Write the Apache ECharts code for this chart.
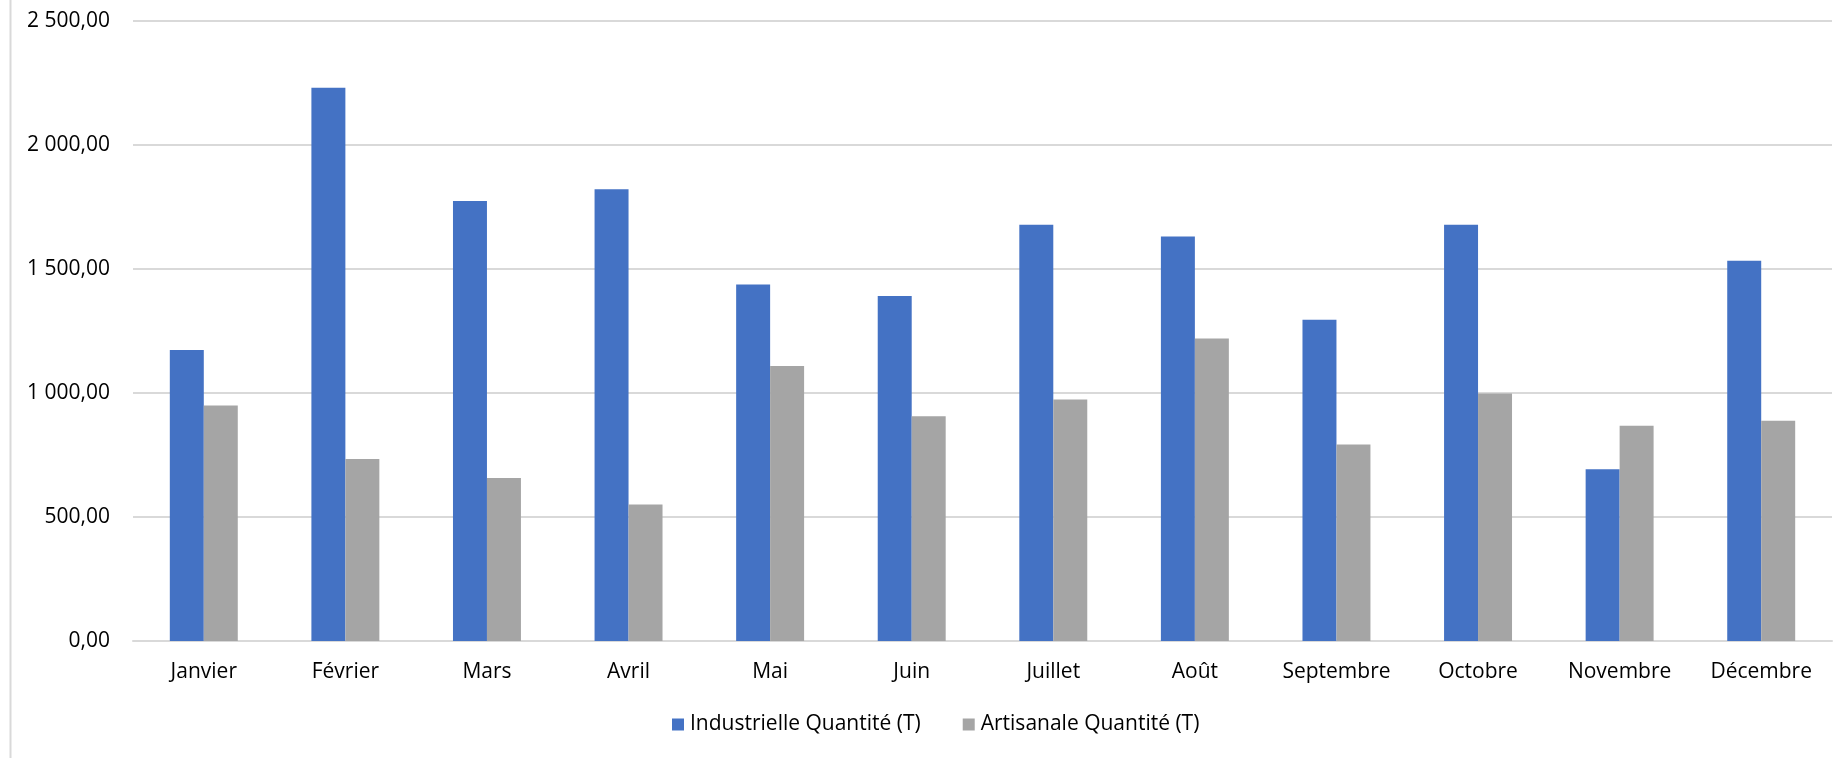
<!DOCTYPE html>
<html>
<head>
<meta charset="utf-8">
<script src="https://cdn.jsdelivr.net/npm/echarts@6/dist/echarts.min.js"></script>
<style>
html,body{margin:0;padding:0;background:#fff;}
#chart{width:1838px;height:758px;}
</style>
</head>
<body>
<div id="chart"></div>
<script>
const categories = ['Janvier','Février','Mars','Avril','Mai','Juin','Juillet','Août','Septembre','Octobre','Novembre','Décembre'];
const industrielle = [1173, 2231, 1774, 1822, 1438, 1391, 1678, 1631, 1295, 1678, 693, 1533];
const artisanale = [950, 734, 657, 550, 1109, 906, 974, 1220, 792, 998, 868, 888];
const seriesNames = ['Industrielle Quantité (T)', 'Artisanale Quantité (T)'];

function fmt(v){
  const s = v.toFixed(2).split('.');
  const intPart = s[0].replace(/\B(?=(\d{3})+(?!\d))/g, ' ');
  return intPart + ',' + s[1];
}

const chart = echarts.init(document.getElementById('chart'));
chart.setOption({
  animation: false,
  backgroundColor: '#ffffff',
  textStyle: {fontFamily: "'Open Sans', sans-serif"},
  graphic: [{
    type: 'line',
    shape: {x1: 10.5, y1: 0, x2: 10.5, y2: 758},
    style: {stroke: '#d9d9d9', lineWidth: 2}
  }],
  grid: {left: 133, right: 6, top: 21, bottom: 117, containLabel: false},
  legend: {
    data: seriesNames,
    top: 714,
    left: 672,
    padding: 0,
    itemWidth: 12,
    itemHeight: 12,
    itemGap: 42,
    icon: 'rect',
    textStyle: {fontFamily: "'Open Sans', sans-serif", fontSize: 21, color: '#000', padding: [0,0,0,1]}
  },
  xAxis: {
    type: 'category',
    data: categories,
    axisLine: {show: true, lineStyle: {color: '#d9d9d9', width: 2}},
    axisTick: {show: false},
    axisLabel: {color: '#000', fontSize: 21, margin: 21}
  },
  yAxis: {
    type: 'value',
    min: 0,
    max: 2500,
    interval: 500,
    axisLine: {show: false},
    axisTick: {show: false},
    splitLine: {lineStyle: {color: '#d9d9d9', width: 2}},
    axisLabel: {color: '#000', fontSize: 21, margin: 23, formatter: fmt}
  },
  series: [
    {name: seriesNames[0], type: 'bar', data: industrielle, barGap: '0%', barCategoryGap: '52%',
     itemStyle: {color: '#4472C4'}},
    {name: seriesNames[1], type: 'bar', data: artisanale, barGap: '0%', barCategoryGap: '52%',
     itemStyle: {color: '#A5A5A5'}}
  ]
});
</script>
</body>
</html>
